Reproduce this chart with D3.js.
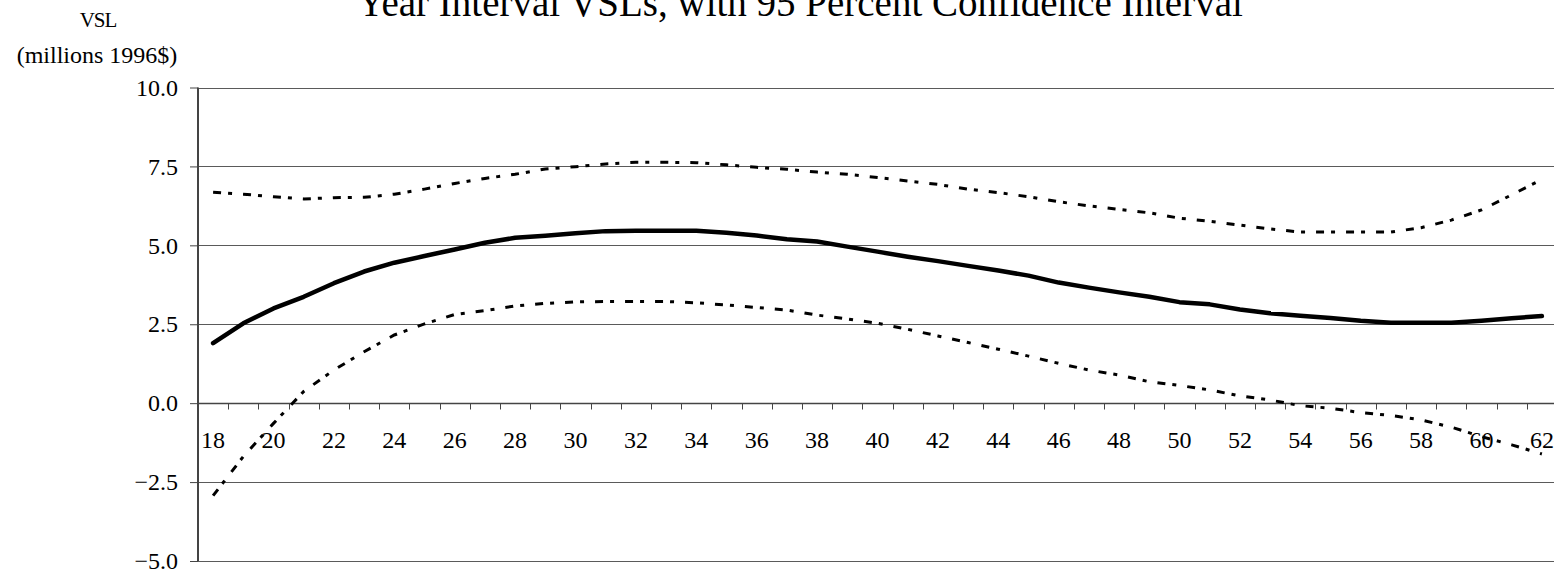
<!DOCTYPE html>
<html>
<head>
<meta charset="utf-8">
<script src="https://cdn.jsdelivr.net/npm/d3@7"></script>
<style>
  body { margin: 0; background: #fff; }
  svg { display: block; font-family: "Liberation Serif", "Times New Roman", serif; }
</style>
</head>
<body>
<div id="chart"></div>
<script>
// ages on the x axis
const ages = [18, 19, 20, 21, 22, 23, 24, 25, 26, 27, 28, 29, 30, 31, 32, 33, 34, 35, 36, 37, 38, 39, 40,
  41, 42, 43, 44, 45, 46, 47, 48, 49, 50, 51, 52, 53, 54, 55, 56, 57, 58, 59, 60, 61, 62];

// year interval VSL estimate (millions 1996$)
const vsl = [1.90, 2.53, 3.00, 3.37, 3.80, 4.17, 4.45, 4.66, 4.87, 5.08, 5.24, 5.30, 5.38, 5.45, 5.46,
  5.46, 5.46, 5.40, 5.31, 5.19, 5.12, 4.96, 4.80, 4.64, 4.50, 4.35, 4.20, 4.04, 3.82, 3.66, 3.51,
  3.37, 3.20, 3.13, 2.97, 2.85, 2.77, 2.70, 2.61, 2.55, 2.55, 2.55, 2.61, 2.69, 2.76];

// upper 95% bound
const upper = [6.68, 6.62, 6.54, 6.47, 6.51, 6.52, 6.62, 6.78, 6.96, 7.12, 7.25, 7.42, 7.49, 7.58, 7.63,
  7.63, 7.62, 7.55, 7.47, 7.41, 7.32, 7.25, 7.15, 7.04, 6.93, 6.78, 6.67, 6.54, 6.38, 6.25, 6.14,
  6.03, 5.86, 5.76, 5.64, 5.52, 5.42, 5.42, 5.42, 5.42, 5.56, 5.80, 6.12, 6.60, 7.09];

// lower 95% bound
const lower = [-2.93, -1.69, -0.64, 0.37, 1.05, 1.63, 2.16, 2.51, 2.81, 2.93, 3.08, 3.16, 3.21, 3.22, 3.22,
  3.22, 3.18, 3.11, 3.03, 2.95, 2.79, 2.67, 2.53, 2.34, 2.13, 1.92, 1.71, 1.49, 1.26, 1.05, 0.89,
  0.68, 0.56, 0.42, 0.23, 0.10, -0.08, -0.16, -0.30, -0.39, -0.53, -0.76, -1.06, -1.32, -1.61];

const yTicks = [-5, -2.5, 0, 2.5, 5, 7.5, 10];
const xLabels = [18, 20, 22, 24, 26, 28, 30, 32, 34, 36, 38, 40, 42, 44, 46, 48, 50, 52, 54, 56, 58, 60, 62];

const title = "Year Interval VSLs, with 95 Percent Confidence Interval";

const W = 1554, H = 573;
const plotLeft = 198, plotRight = 1557, plotTop = 87.5, plotBottom = 561;

const svg = d3.select("#chart").append("svg")
  .attr("width", W)
  .attr("height", H);

// scales
const x = d3.scaleBand().domain(ages).range([plotLeft, plotRight]).padding(0);
const y = d3.scaleLinear().domain([-5, 10]).range([plotBottom, plotTop]);
const cx = d => x(d) + x.bandwidth() / 2;

// horizontal gridlines
svg.append("g")
  .selectAll("line")
  .data(yTicks)
  .enter()
  .append("line")
  .attr("x1", plotLeft)
  .attr("x2", plotRight)
  .attr("y1", d => Math.round(y(d)) + 0.5)
  .attr("y2", d => Math.round(y(d)) + 0.5)
  .attr("stroke", "#5a5a5a")
  .attr("stroke-width", 1);

// y axis
const yAxis = svg.append("g")
  .attr("transform", `translate(${plotLeft},0)`)
  .call(d3.axisLeft(y).tickValues(yTicks).tickFormat(d3.format(".1f")).tickSize(8).tickPadding(12));
yAxis.select(".domain").attr("stroke", "#444").attr("stroke-width", 2).attr("d", `M0,${plotTop}V${plotBottom}`);
yAxis.selectAll(".tick line").attr("stroke", "#444");
yAxis.selectAll("text").attr("font-size", 24).attr("font-family", "Liberation Serif").attr("fill", "#000");

// x axis sits on the zero line, ticks between categories
const y0 = Math.round(y(0)) + 0.5;
svg.append("line")
  .attr("x1", plotLeft).attr("x2", plotRight)
  .attr("y1", y0).attr("y2", y0)
  .attr("stroke", "#444")
  .attr("stroke-width", 1.5);

svg.append("g")
  .selectAll("line")
  .data(ages.slice(1))
  .enter()
  .append("line")
  .attr("x1", d => Math.round(x(d)) + 0.5)
  .attr("x2", d => Math.round(x(d)) + 0.5)
  .attr("y1", y0)
  .attr("y2", y0 + 6)
  .attr("stroke", "#444");

const xAxis = svg.append("g")
  .attr("transform", `translate(0,${y0})`)
  .call(d3.axisBottom(x).tickValues(xLabels).tickSize(0).tickPadding(27));
xAxis.select(".domain").remove();
xAxis.selectAll("text").attr("font-size", 24).attr("font-family", "Liberation Serif").attr("fill", "#000");

// lines
const line = d3.line()
  .x((d, i) => cx(ages[i]))
  .y(d => y(d));

[upper, lower].forEach(series => {
  svg.append("path")
    .datum(series)
    .attr("fill", "none")
    .attr("stroke", "#000")
    .attr("stroke-width", 3)
    .attr("stroke-dasharray", "8,7,4,11")
    .attr("d", line);
});

svg.append("path")
  .datum(vsl)
  .attr("fill", "none")
  .attr("stroke", "#000")
  .attr("stroke-width", 4.5)
  .attr("stroke-linejoin", "round")
  .attr("stroke-linecap", "round")
  .attr("d", line);

// titles (chart title is clipped at the top edge like the original)
svg.append("text")
  .attr("x", 800)
  .attr("y", 16)
  .attr("text-anchor", "middle")
  .attr("font-size", 39)
  .text(title);

svg.append("text")
  .attr("x", 98)
  .attr("y", 27)
  .attr("text-anchor", "middle")
  .attr("font-size", 21)
  .attr("letter-spacing", -1)
  .text("VSL");

svg.append("text")
  .attr("x", 97)
  .attr("y", 63)
  .attr("text-anchor", "middle")
  .attr("font-size", 24)
  .text("(millions 1996$)");
</script>
</body>
</html>
